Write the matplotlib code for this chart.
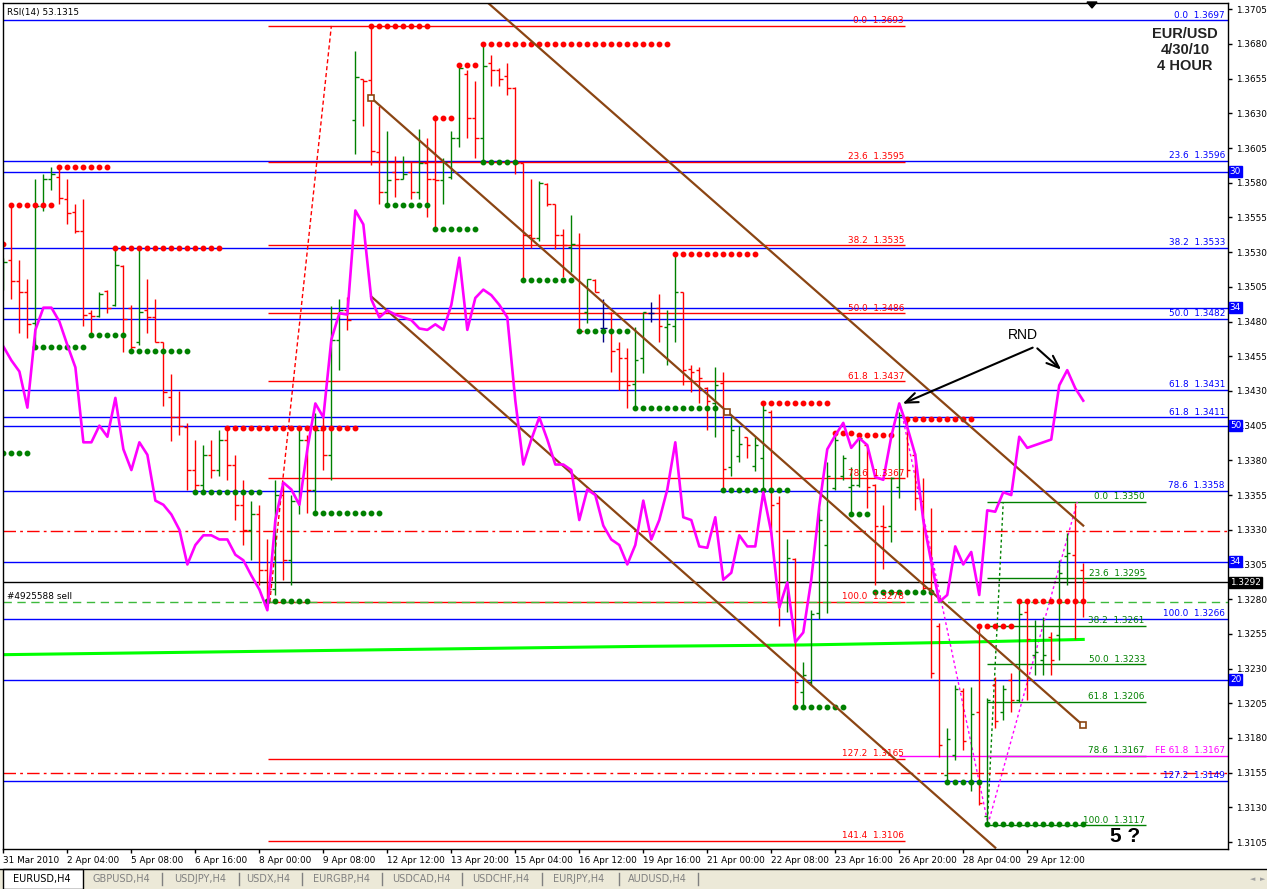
import matplotlib
matplotlib.use("Agg")
import numpy as np
import matplotlib.pyplot as plt
from matplotlib.patches import Rectangle, Polygon

W, H = 1267, 889

# EURUSD H4 bars, 31 Mar - 30 Apr 2010 (one entry per bar)
bar_open = [1.3506, 1.3524, 1.3509, 1.3501, 1.3479, 1.3563, 1.3583, 1.3584, 1.3568, 1.3559,
            1.3545, 1.3486, 1.3484, 1.3502, 1.3492, 1.3520, 1.3490, 1.3465, 1.3488, 1.3483,
            1.3465, 1.3426, 1.3411, 1.3404, 1.3373, 1.3362, 1.3384, 1.3373, 1.3395, 1.3377,
            1.3348, 1.3330, 1.3341, 1.3301, 1.3287, 1.3355, 1.3308, 1.3351, 1.3395, 1.3359,
            1.3402, 1.3384, 1.3467, 1.3488, 1.3625, 1.3655, 1.3654, 1.3602, 1.3573, 1.3588,
            1.3583, 1.3588, 1.3573, 1.3594, 1.3583, 1.3582, 1.3584, 1.3612, 1.3658, 1.3627,
            1.3612, 1.3666, 1.3661, 1.3657, 1.3648, 1.3594, 1.3542, 1.3540, 1.3579, 1.3565,
            1.3542, 1.3534, 1.3535, 1.3487, 1.3510, 1.3475, 1.3486, 1.3460, 1.3454, 1.3435,
            1.3454, 1.3486, 1.3490, 1.3476, 1.3477, 1.3501, 1.3446, 1.3445, 1.3432, 1.3421,
            1.3436, 1.3375, 1.3383, 1.3397, 1.3376, 1.3382, 1.3415, 1.3349, 1.3292, 1.3309,
            1.3213, 1.3220, 1.3270, 1.3319, 1.3360, 1.3369, 1.3361, 1.3362, 1.3391, 1.3362,
            1.3333, 1.3333, 1.3361, 1.3409, 1.3384, 1.3351, 1.3288, 1.3261, 1.3153, 1.3168,
            1.3214, 1.3148, 1.3199, 1.3124, 1.3218, 1.3199, 1.3222, 1.3207, 1.3271, 1.3240,
            1.3236, 1.3253, 1.3254, 1.3311, 1.3312, 1.3301]
bar_high = [1.3526, 1.3564, 1.3524, 1.3511, 1.3583, 1.3586, 1.3591, 1.3591, 1.3583, 1.3565,
            1.3568, 1.3488, 1.3501, 1.3503, 1.3532, 1.3521, 1.3492, 1.3532, 1.3511, 1.3496,
            1.3465, 1.3442, 1.3430, 1.3407, 1.3395, 1.3391, 1.3395, 1.3402, 1.3403, 1.3384,
            1.3366, 1.3351, 1.3348, 1.3323, 1.3366, 1.3362, 1.3355, 1.3402, 1.3398, 1.3414,
            1.3412, 1.3491, 1.3496, 1.3498, 1.3675, 1.3655, 1.3693, 1.3635, 1.3617, 1.3599,
            1.3599, 1.3596, 1.3619, 1.3612, 1.3629, 1.3598, 1.3617, 1.3665, 1.3661, 1.3653,
            1.3680, 1.3672, 1.3663, 1.3666, 1.3649, 1.3594, 1.3583, 1.3581, 1.3580, 1.3565,
            1.3547, 1.3557, 1.3544, 1.3511, 1.3511, 1.3496, 1.3487, 1.3465, 1.3461, 1.3476,
            1.3487, 1.3494, 1.3500, 1.3488, 1.3529, 1.3501, 1.3449, 1.3447, 1.3433, 1.3447,
            1.3444, 1.3411, 1.3405, 1.3397, 1.3397, 1.3421, 1.3416, 1.3354, 1.3323, 1.3310,
            1.3235, 1.3272, 1.3346, 1.3379, 1.3400, 1.3384, 1.3375, 1.3398, 1.3391, 1.3363,
            1.3348, 1.3368, 1.3415, 1.3410, 1.3385, 1.3367, 1.3346, 1.3263, 1.3187, 1.3218,
            1.3216, 1.3217, 1.3261, 1.3209, 1.3224, 1.3218, 1.3227, 1.3280, 1.3279, 1.3265,
            1.3267, 1.3256, 1.3308, 1.3328, 1.3349, 1.3306]
bar_low = [1.3503, 1.3496, 1.3472, 1.3468, 1.3462, 1.3560, 1.3575, 1.3565, 1.3550, 1.3544,
           1.3477, 1.3469, 1.3483, 1.3486, 1.3491, 1.3458, 1.3460, 1.3463, 1.3472, 1.3465,
           1.3419, 1.3394, 1.3398, 1.3359, 1.3357, 1.3356, 1.3367, 1.3369, 1.3366, 1.3337,
           1.3319, 1.3308, 1.3290, 1.3278, 1.3283, 1.3294, 1.3290, 1.3341, 1.3342, 1.3343,
           1.3373, 1.3366, 1.3445, 1.3474, 1.3601, 1.3621, 1.3593, 1.3565, 1.3565, 1.3570,
           1.3583, 1.3568, 1.3568, 1.3555, 1.3547, 1.3565, 1.3583, 1.3606, 1.3612, 1.3598,
           1.3595, 1.3650, 1.3650, 1.3643, 1.3586, 1.3510, 1.3533, 1.3538, 1.3563, 1.3532,
           1.3512, 1.3516, 1.3473, 1.3479, 1.3501, 1.3465, 1.3444, 1.3431, 1.3418, 1.3418,
           1.3443, 1.3480, 1.3465, 1.3449, 1.3465, 1.3434, 1.3429, 1.3421, 1.3402, 1.3397,
           1.3359, 1.3369, 1.3379, 1.3382, 1.3372, 1.3357, 1.3326, 1.3261, 1.3271, 1.3202,
           1.3204, 1.3218, 1.3266, 1.3270, 1.3359, 1.3366, 1.3341, 1.3361, 1.3346, 1.3290,
           1.3302, 1.3321, 1.3353, 1.3368, 1.3344, 1.3285, 1.3223, 1.3166, 1.3148, 1.3164,
           1.3171, 1.3142, 1.3132, 1.3117, 1.3187, 1.3193, 1.3199, 1.3206, 1.3207, 1.3225,
           1.3225, 1.3225, 1.3236, 1.3290, 1.3251, 1.3267]
bar_close = [1.3523, 1.3509, 1.3501, 1.3478, 1.3563, 1.3583, 1.3586, 1.3569, 1.3558, 1.3545,
             1.3485, 1.3484, 1.3500, 1.3490, 1.3521, 1.3482, 1.3462, 1.3487, 1.3483, 1.3465,
             1.3429, 1.3411, 1.3405, 1.3373, 1.3362, 1.3384, 1.3373, 1.3395, 1.3377, 1.3348,
             1.3330, 1.3341, 1.3301, 1.3287, 1.3355, 1.3308, 1.3351, 1.3395, 1.3359, 1.3402,
             1.3384, 1.3467, 1.3488, 1.3481, 1.3656, 1.3653, 1.3603, 1.3573, 1.3582, 1.3583,
             1.3586, 1.3573, 1.3594, 1.3583, 1.3582, 1.3595, 1.3612, 1.3663, 1.3627, 1.3612,
             1.3664, 1.3661, 1.3655, 1.3648, 1.3594, 1.3542, 1.3540, 1.3580, 1.3565, 1.3542,
             1.3535, 1.3536, 1.3473, 1.3511, 1.3501, 1.3475, 1.3459, 1.3454, 1.3434, 1.3452,
             1.3487, 1.3486, 1.3477, 1.3478, 1.3501, 1.3445, 1.3444, 1.3439, 1.3423, 1.3434,
             1.3374, 1.3402, 1.3392, 1.3391, 1.3391, 1.3416, 1.3348, 1.3279, 1.3310, 1.3220,
             1.3225, 1.3269, 1.3337, 1.3369, 1.3395, 1.3382, 1.3362, 1.3396, 1.3361, 1.3333,
             1.3332, 1.3367, 1.3413, 1.3373, 1.3353, 1.3288, 1.3227, 1.3175, 1.3179, 1.3215,
             1.3178, 1.3197, 1.3133, 1.3207, 1.3192, 1.3215, 1.3207, 1.3269, 1.3251, 1.3242,
             1.3240, 1.3236, 1.3299, 1.3313, 1.3279, 1.3292]

# RSI(14) line drawn on the price scale (magenta)
rsi_line = [1.3462, 1.3452, 1.3444, 1.3418, 1.3474, 1.3490, 1.3490, 1.3480, 1.3463, 1.3447,
            1.3393, 1.3393, 1.3405, 1.3397, 1.3425, 1.3388, 1.3373, 1.3393, 1.3384, 1.3351,
            1.3348, 1.3341, 1.3330, 1.3305, 1.3319, 1.3326, 1.3326, 1.3323, 1.3323, 1.3312,
            1.3308, 1.3297, 1.3287, 1.3272, 1.3337, 1.3364, 1.3359, 1.3348, 1.3388, 1.3421,
            1.3411, 1.3467, 1.3486, 1.3485, 1.3560, 1.3550, 1.3496, 1.3483, 1.3488, 1.3485,
            1.3483, 1.3481, 1.3475, 1.3474, 1.3478, 1.3474, 1.3492, 1.3526, 1.3474, 1.3497,
            1.3503, 1.3499, 1.3492, 1.3483, 1.3423, 1.3377, 1.3395, 1.3411, 1.3395, 1.3377,
            1.3377, 1.3373, 1.3337, 1.3359, 1.3355, 1.3333, 1.3323, 1.3319, 1.3305, 1.3319,
            1.3351, 1.3323, 1.3337, 1.3359, 1.3393, 1.3339, 1.3337, 1.3318, 1.3317, 1.3339,
            1.3294, 1.3299, 1.3326, 1.3318, 1.3318, 1.3357, 1.3328, 1.3274, 1.3292, 1.3249,
            1.3256, 1.3294, 1.3347, 1.3388, 1.3398, 1.3407, 1.3389, 1.3396, 1.3391, 1.3368,
            1.3366, 1.3397, 1.3421, 1.3404, 1.3384, 1.3337, 1.3307, 1.3278, 1.3283, 1.3318,
            1.3305, 1.3314, 1.3283, 1.3344, 1.3343, 1.3357, 1.3355, 1.3397, 1.3389, 1.3391,
            1.3393, 1.3395, 1.3434, 1.3445, 1.3432, 1.3423]

# slow moving average (lime), anchor bars
ma_bars = [0, 40, 80, 100, 120, 135]
ma_vals = [1.3240, 1.3243, 1.3246, 1.3247, 1.3249, 1.3251]

# fractal support / resistance dots: (price, first bar, last bar)
red_dots = [(1.3536, 0, 0), (1.3564, 1, 6), (1.3591, 7, 13), (1.3533, 14, 27),
            (1.3403, 28, 44), (1.3693, 46, 53), (1.3627, 54, 56), (1.3665, 57, 59),
            (1.3680, 60, 83), (1.3529, 84, 94), (1.3421, 95, 103), (1.3400, 104, 106),
            (1.3398, 107, 111), (1.3410, 113, 121), (1.3261, 122, 126), (1.3279, 127, 135)]
green_dots = [(1.3385, 0, 3), (1.3462, 4, 10), (1.3470, 11, 15), (1.3459, 16, 23),
              (1.3357, 24, 32), (1.3279, 33, 38), (1.3342, 39, 47), (1.3564, 48, 53),
              (1.3547, 54, 59), (1.3595, 60, 64), (1.3510, 65, 71), (1.3473, 72, 78),
              (1.3418, 79, 89), (1.3359, 90, 98), (1.3202, 99, 105), (1.3341, 106, 108),
              (1.3285, 109, 116), (1.3148, 118, 122), (1.3118, 123, 135)]

# fibonacci retracement (red), drawn 8 Apr low -> 12 Apr high
red_fib_levels = ["0.0", "23.6", "38.2", "50.0", "61.8", "78.6", "100.0", "127.2", "141.4"]
red_fib_prices = [1.3693, 1.3595, 1.3535, 1.3486, 1.3437, 1.3367, 1.3278, 1.3165, 1.3106]
# blue fibonacci levels across the whole chart
blue_fib_levels = ["0.0", "23.6", "38.2", "50.0", "61.8", "61.8", "78.6", "100.0", "127.2"]
blue_fib_prices = [1.3697, 1.3596, 1.3533, 1.3482, 1.3431, 1.3411, 1.3358, 1.3266, 1.3149]
# horizontal lines with a box tag on the price scale
blue_tag_prices = [1.3588, 1.3490, 1.3405, 1.3307, 1.3222]
blue_tag_text = ["30", "34", "50", "34", "20"]
# green fibonacci on the last swing (28 Apr low -> 29 Apr high)
green_fib_levels = ["0.0", "23.6", "38.2", "50.0", "61.8", "78.6", "100.0"]
green_fib_prices = [1.3350, 1.3295, 1.3261, 1.3233, 1.3206, 1.3167, 1.3117]

bid_price = 1.3292
order_open = 1.3278
order_stops = [1.3329, 1.3155]
fe_price = 1.3167

# channel lines (bar, price) pairs
chan_upper = [(60.6, 1.37095), (135.0, 1.3333)]
chan_mid = [(46.0, 1.3641), (90.5, 1.3415), (135.0, 1.3189)]
chan_lower = [(46.0, 1.3498), (124.0, 1.3101)]

date_ticks = [0, 8, 16, 24, 32, 40, 48, 56, 64, 72, 80, 88, 96, 104, 112, 120, 128]
date_labels = ["31 Mar 2010", "2 Apr 04:00", "5 Apr 08:00", "6 Apr 16:00", "8 Apr 00:00",
               "9 Apr 08:00", "12 Apr 12:00", "13 Apr 20:00", "15 Apr 04:00", "16 Apr 12:00",
               "19 Apr 16:00", "21 Apr 00:00", "22 Apr 08:00", "23 Apr 16:00", "26 Apr 20:00",
               "28 Apr 04:00", "29 Apr 12:00"]
price_ticks = [round(1.3105 + 0.0025 * k, 4) for k in range(25)]

tabs = ["GBPUSD,H4", "USDJPY,H4", "USDX,H4", "EURGBP,H4", "USDCAD,H4",
        "USDCHF,H4", "EURJPY,H4", "AUDUSD,H4"]
tab_x = [121, 200, 268, 341, 421, 501, 579, 657]
tab_sep = [162, 239, 302, 382, 462, 542, 619, 698]

RED = "#FF0000"
GREEN = "#008000"
BLUE = "#0000FF"
BROWN = "#8B4513"
MAG = "#FF00FF"
FS = 6.4


def fx(px):
    return px / W


def fy(py):
    return 1 - py / H


fig = plt.figure(figsize=(W / 100, H / 100), dpi=100)
fig.patch.set_facecolor("white")
ax = fig.add_axes([3 / W, 1 - 849 / H, 1225 / W, 846 / H])
ax.set_xlim(-0.05, 153.1)
ax.set_ylim(1.3100, 1.37095)
ax.set_facecolor("white")
right_edge = 153.1
ytr = ax.get_yaxis_transform()

# blue full width lines
for lev, p in zip(blue_fib_levels, blue_fib_prices):
    ax.axhline(p, color=BLUE, lw=1)
    ax.text(0.9975, p + 0.00004, f"{lev}  {p:.4f}", transform=ytr, ha="right", va="bottom",
            color=BLUE, fontsize=FS)
for p, t in zip(blue_tag_prices, blue_tag_text):
    ax.axhline(p, color=BLUE, lw=1)
    ax.text(1.0015, p, t, transform=ytr, ha="left", va="center", color="white", fontsize=FS,
            clip_on=False, zorder=5, bbox=dict(boxstyle="square,pad=0.1", fc=BLUE, ec=BLUE))

# red fib lines
for lev, p in zip(red_fib_levels, red_fib_prices):
    ax.hlines(p, 33.1, 112.75, color=RED, lw=1)
    ax.text(112.6, p + 0.00004, f"{lev}  {p:.4f}", ha="right", va="bottom", color=RED, fontsize=FS)
ax.plot([33.3, 41.0], [red_fib_prices[6], red_fib_prices[0]], color=RED, lw=1, ls=(0, (3, 2)))

# green fib lines
for lev, p in zip(green_fib_levels, green_fib_prices):
    ax.hlines(p, 123.0, 142.9, color=GREEN, lw=1)
    ax.text(142.7, p + 0.00004, f"{lev}  {p:.4f}", ha="right", va="bottom", color=GREEN, fontsize=FS)
ax.plot([123.0, 125.0], [green_fib_prices[6], green_fib_prices[0]], color=GREEN, lw=1, ls=(0, (2, 2)))

# fibo expansion (magenta)
ax.hlines(fe_price, 112.0, right_edge, color=MAG, lw=1)
ax.text(0.9975, fe_price + 0.00004, f"FE 61.8  {fe_price:.4f}", transform=ytr, ha="right",
        va="bottom", color=MAG, fontsize=FS)
ax.plot([112.1, 123.1, 134.25], [1.3420, 1.3118, 1.3350], color=MAG, lw=1, ls=(0, (2, 2)))

# order lines
ax.axhline(order_open, color="#3CB93C", lw=1, ls=(0, (6, 4)))
ax.text(0.5, order_open + 0.00005, "#4925588 sell", ha="left", va="bottom", color="black", fontsize=FS)
for p in order_stops:
    ax.axhline(p, color=RED, lw=1, ls=(0, (9, 3, 2, 3)))

# bid line
ax.axhline(bid_price, color="black", lw=1)
ax.text(1.0015, bid_price, f"{bid_price:.4f}", transform=ytr, ha="left", va="center", color="white",
        fontsize=FS, clip_on=False, zorder=5,
        bbox=dict(boxstyle="square,pad=0.15", fc="black", ec="black"))

# slow MA
ax.plot(ma_bars, ma_vals, color="#00FF00", lw=2.2)

# bars
n = len(bar_open)
idx = np.arange(n)
cols = []
for o, c in zip(bar_open, bar_close):
    cols.append(GREEN if c > o else (RED if c < o else "#000080"))
ax.vlines(idx, bar_low, bar_high, colors=cols, lw=1)
ax.hlines(bar_open, idx - 0.4, idx, colors=cols, lw=1)
ax.hlines(bar_close, idx, idx + 0.4, colors=cols, lw=1)

# fractal dots
for p, a, b in red_dots:
    xs = np.arange(a, b + 1)
    ax.plot(xs, [p] * len(xs), "o", color=RED, ms=3.2, mec=RED)
for p, a, b in green_dots:
    xs = np.arange(a, b + 1)
    ax.plot(xs, [p] * len(xs), "o", color=GREEN, ms=3.2, mec=GREEN)

# channel
for line in (chan_upper, chan_mid, chan_lower):
    ax.plot([q[0] for q in line], [q[1] for q in line], color=BROWN, lw=1.6)
ax.plot([q[0] for q in chan_mid], [q[1] for q in chan_mid], "s", ms=4.5, mfc="white", mec=BROWN, mew=1.2)

# RSI line
ax.plot(idx, rsi_line, color=MAG, lw=1.9)

# annotations
ax.text(127.4, 1.3470, "RND", ha="center", va="center", fontsize=10, family="Liberation Sans")
for head in [(112.1, 1.3420), (132.5, 1.3444)]:
    ax.annotate("", xy=head, xytext=(129.0, 1.3462),
                arrowprops=dict(arrowstyle="->,head_length=0.9,head_width=0.35", lw=1.5, color="black"))
ax.text(140.2, 1.3109, "5 ?", ha="center", va="center", fontsize=15, fontweight="bold",
        family="Liberation Sans")
for k, t in enumerate(["EUR/USD", "4/30/10", "4 HOUR"]):
    fig.text(fx(1185), fy(34 + 16 * k), t, ha="center", va="center", fontsize=10.5,
             fontweight="bold", family="Liberation Sans", color="#222222")
fig.text(fx(7), fy(12), "RSI(14) 53.1315", ha="left", va="center", fontsize=FS)

# axes styling
for s in ax.spines.values():
    s.set_color("black")
    s.set_linewidth(1)
ax.yaxis.tick_right()
ax.set_yticks(price_ticks)
ax.set_yticklabels([f"{p:.4f}" for p in price_ticks])
ax.tick_params(axis="y", direction="out", length=3, width=1, pad=3, labelsize=FS)
ax.set_xticks(date_ticks)
ax.set_xticklabels(date_labels)
for lbl in ax.get_xticklabels():
    lbl.set_ha("left")
ax.tick_params(axis="x", direction="out", length=3, width=1, pad=2, labelsize=FS)

# chart shift marker
fig.add_artist(Polygon([[fx(1087), fy(2)], [fx(1097), fy(2)], [fx(1092), fy(8)]], closed=True,
                       color="black", transform=fig.transFigure))

# tab bar
fig.add_artist(Rectangle((0, 0), 1, fy(869), transform=fig.transFigure, fc="#ECE9D8", ec="none"))
fig.add_artist(plt.Line2D([0, 1], [fy(869), fy(869)], transform=fig.transFigure, color="black", lw=1))
fig.add_artist(Rectangle((fx(3), 0), fx(80), fy(869), transform=fig.transFigure, fc="white",
                         ec="black", lw=1))
fig.text(fx(42), fy(879), "EURUSD,H4", ha="center", va="center", fontsize=7, color="black")
for t, x in zip(tabs, tab_x):
    fig.text(fx(x), fy(879), t, ha="center", va="center", fontsize=7, color="#808080")
for x in tab_sep:
    fig.add_artist(plt.Line2D([fx(x), fx(x)], [fy(885), fy(873)], transform=fig.transFigure,
                              color="#808080", lw=1))
fig.text(fx(1253), fy(879), "\u25c4", ha="center", va="center", fontsize=5, color="#A0A0A0")
fig.text(fx(1263), fy(879), "\u25ba", ha="center", va="center", fontsize=5, color="#A0A0A0")

fig.savefig("out.png", dpi=100, facecolor="white")
